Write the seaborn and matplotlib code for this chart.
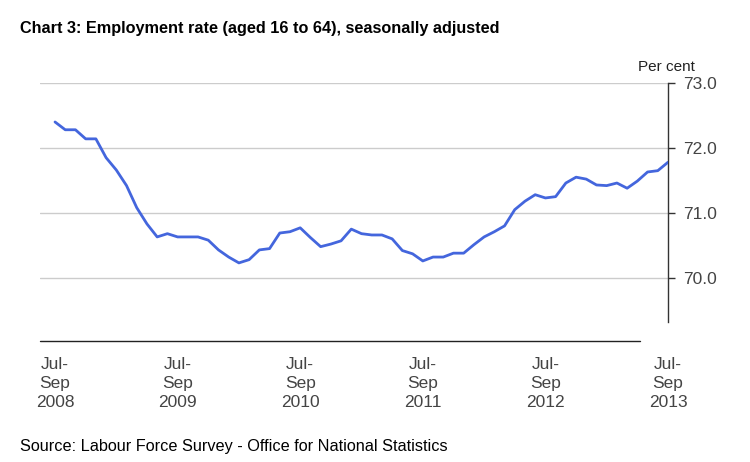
import matplotlib
matplotlib.use("Agg")
import matplotlib.pyplot as plt
import seaborn as sns
import pandas as pd
from matplotlib.lines import Line2D

title = "Chart 3: Employment rate (aged 16 to 64), seasonally adjusted"
source = "Source: Labour Force Survey - Office for National Statistics"
unit_label = "Per cent"

rate = [72.40, 72.28, 72.28, 72.14, 72.14, 71.85, 71.66, 71.42, 71.08, 70.83,
        70.63, 70.68, 70.63, 70.63, 70.63, 70.58, 70.43, 70.32, 70.23, 70.28,
        70.43, 70.45, 70.69, 70.71, 70.77, 70.62, 70.48, 70.52, 70.57, 70.75,
        70.68, 70.66, 70.66, 70.60, 70.42, 70.37, 70.26, 70.32, 70.32, 70.38,
        70.38, 70.51, 70.63, 70.71, 70.80, 71.05, 71.18, 71.28, 71.23, 71.25,
        71.46, 71.55, 71.52, 71.43, 71.42, 71.46, 71.38, 71.49, 71.63, 71.65,
        71.78]
period = list(range(len(rate)))
xtick_pos = [0, 12, 24, 36, 48, 60]
xtick_labels = ["Jul-\nSep\n2008", "Jul-\nSep\n2009", "Jul-\nSep\n2010",
                "Jul-\nSep\n2011", "Jul-\nSep\n2012", "Jul-\nSep\n2013"]
ytick_vals = [70.0, 71.0, 72.0, 73.0]

sns.set_theme(style="white")
plt.rcParams['font.family'] = ['Liberation Sans', 'DejaVu Sans']

df = pd.DataFrame({"period": period, "rate": rate})

fig = plt.figure(figsize=(7.5, 4.62), dpi=100)
ax = fig.add_axes([40/750, 1-322/462, (668-40)/750, (322-83)/462])

sns.lineplot(data=df, x="period", y="rate", ax=ax, color="#4466dd",
             linewidth=2.0, zorder=3)

ax.set_xlim(-1.47, 60)
ax.set_ylim(69.32, 73.0)

for v in ytick_vals:
    ax.axhline(v, color="#cccccc", linewidth=1.0, zorder=1)

ax.yaxis.tick_right()
ax.set_yticks(ytick_vals)
ax.set_yticklabels([f"{v:.1f}" for v in ytick_vals], color="#444444", fontsize=12.5)
ax.tick_params(axis="y", direction="out", length=5, width=1, color="#333333",
               pad=6, right=True, left=False)

ax.set_xticks(xtick_pos)
ax.set_xticklabels(xtick_labels, color="#444444", fontsize=12.5, linespacing=1.35)
ax.tick_params(axis="x", length=0, pad=25)

ax.set_xlabel("")
ax.set_ylabel("")
for s in ["top", "left", "bottom"]:
    ax.spines[s].set_visible(False)
ax.spines["right"].set_color("#333333")
ax.spines["right"].set_linewidth(1.0)

# baseline below plot
fig.add_artist(Line2D([40/750, 640/750], [1-341/462, 1-341/462],
                      color="#222222", linewidth=1.0))

fig.text(20/750, 1-28/462, title, fontsize=11.7, fontweight="bold",
         color="#000000", va="center", ha="left")
fig.text(666/750, 1-67/462, unit_label, fontsize=11, color="#222222",
         va="center", ha="center")
fig.text(20/750, 1-447/462, source, fontsize=11.7, color="#000000",
         va="center", ha="left")

fig.savefig("out.png", dpi=100)
